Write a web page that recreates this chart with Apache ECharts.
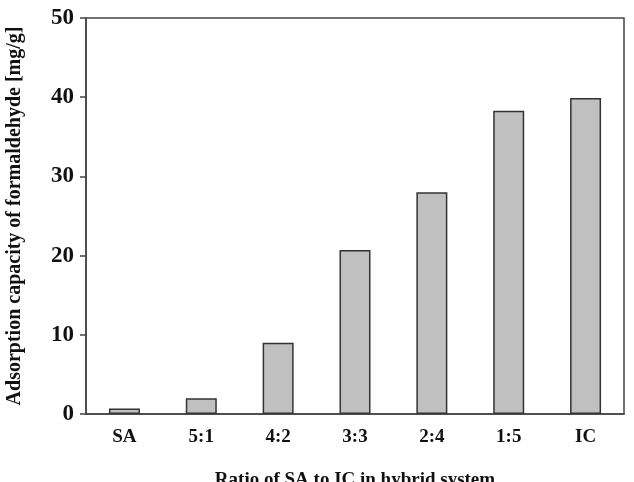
<!DOCTYPE html>
<html>
<head>
<meta charset="utf-8">
<script src="https://cdn.jsdelivr.net/npm/echarts@6/dist/echarts.min.js"></script>
<style>
html,body{margin:0;padding:0;background:#fff;}
#main{width:634px;height:482px;}
</style>
</head>
<body>
<div id="main"></div>
<script>
var categories = ['SA', '5:1', '4:2', '3:3', '2:4', '1:5', 'IC'];
var capacity = [0.7, 2.0, 9.0, 20.7, 28.0, 38.3, 39.9];
var yTicks = [0, 10, 20, 30, 40, 50];

var serif = '"Liberation Serif", "DejaVu Serif", serif';
var myChart = echarts.init(document.getElementById('main'));

var option = {
	backgroundColor: '#ffffff',
	animation: false,
	grid: {
		left: 86,
		right: 10,
		top: 18,
		bottom: 68,
		outerBoundsMode: 'none',
		containLabel: false,
		show: true,
		borderColor: '#444',
		borderWidth: 1.5
	},
	xAxis: {
		type: 'category',
		data: categories,
		name: 'Ratio of SA to IC in hybrid system',
		nameLocation: 'middle',
		nameGap: 57,
		nameTextStyle: { fontFamily: serif, fontWeight: 'bold', fontSize: 19, color: '#111' },
		axisLine: { lineStyle: { color: '#444', width: 1.5 } },
		axisTick: { show: false },
		axisLabel: { fontFamily: serif, fontWeight: 'bold', fontSize: 19, color: '#111', margin: 14 }
	},
	yAxis: {
		type: 'value',
		min: yTicks[0],
		max: yTicks[yTicks.length - 1],
		interval: 10,
		name: 'Adsorption capacity of formaldehyde [mg/g]',
		nameLocation: 'middle',
		nameGap: 61,
		nameTextStyle: { fontFamily: serif, fontWeight: 'bold', fontSize: 20, color: '#111' },
		axisLine: { show: true, lineStyle: { color: '#444', width: 1.5 } },
		axisTick: { show: true, length: 6, lineStyle: { color: '#444', width: 1.5 } },
		splitLine: { show: false },
		axisLabel: { fontFamily: serif, fontWeight: 'bold', fontSize: 23, color: '#111', margin: 12 }
	},
	series: [{
		type: 'bar',
		data: capacity,
		barWidth: 31,
		itemStyle: { color: '#c0c0c0', borderColor: '#333', borderWidth: 1.5 }
	}]
};

myChart.setOption(option);
</script>
</body>
</html>
